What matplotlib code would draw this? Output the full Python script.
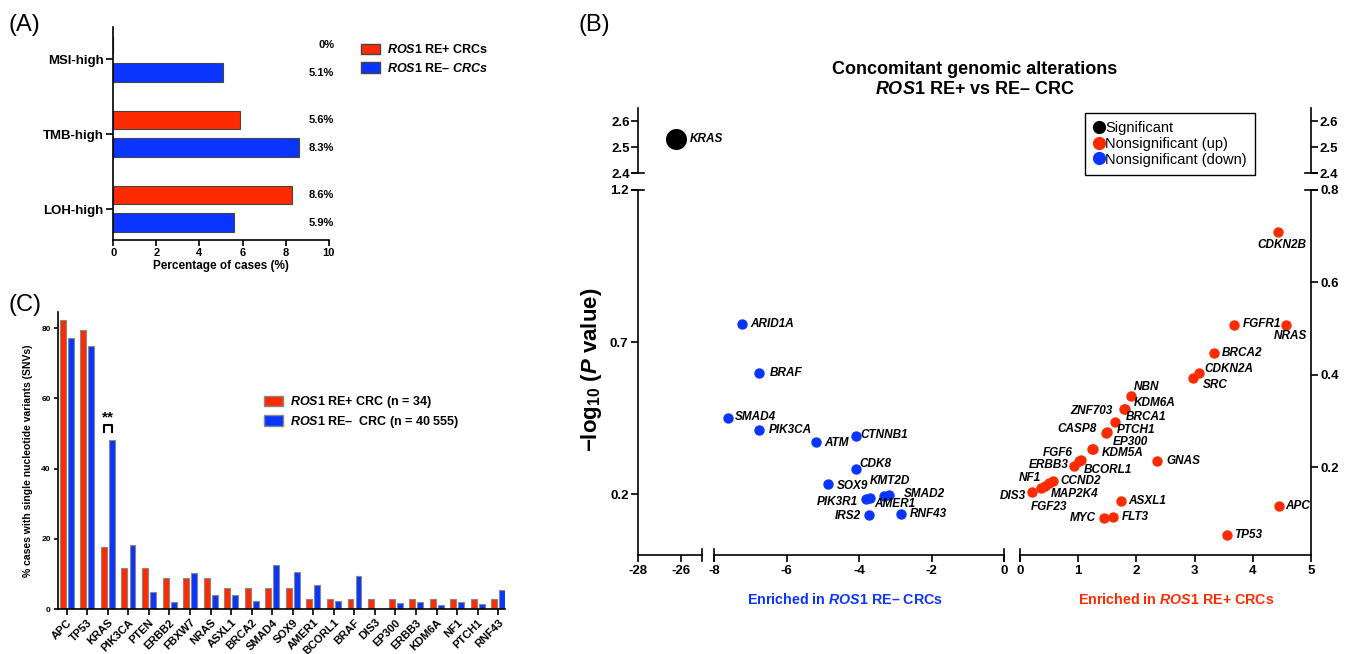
import matplotlib
matplotlib.use('Agg')
import matplotlib.pyplot as plt
import numpy as np
from matplotlib.patches import Patch
from matplotlib.lines import Line2D

plt.rcParams['font.family'] = ['Liberation Sans', 'DejaVu Sans']
plt.rcParams['mathtext.fontset'] = 'custom'
plt.rcParams['mathtext.it'] = 'Liberation Sans:italic:bold'
plt.rcParams['mathtext.rm'] = 'Liberation Sans:bold'
plt.rcParams['mathtext.bf'] = 'Liberation Sans:bold'
plt.rcParams['axes.linewidth'] = 1.2
plt.rcParams['xtick.major.width'] = 1.2
plt.rcParams['ytick.major.width'] = 1.2
plt.rcParams['axes.unicode_minus'] = False

RED = '#FF2B00'
BLUE = '#0A35FF'

# ---- panel A data ----
a_cats = ['MSI-high', 'TMB-high', 'LOH-high']
a_pos = [0.0, 5.9, 8.3]
a_neg = [5.1, 8.6, 5.6]
a_pos_txt = ['0%', '5.6%', '8.6%']
a_neg_txt = ['5.1%', '8.3%', '5.9%']

# ---- panel C data ----
c_genes = ['APC', 'TP53', 'KRAS', 'PIK3CA', 'PTEN', 'ERBB2', 'FBXW7', 'NRAS', 'ASXL1',
           'BRCA2', 'SMAD4', 'SOX9', 'AMER1', 'BCORL1', 'BRAF', 'DIS3', 'EP300', 'ERBB3',
           'KDM6A', 'NF1', 'PTCH1', 'RNF43']
c_pos = [82.4, 79.4, 17.6, 11.8, 11.8, 8.8, 8.8, 8.8, 5.9, 5.9, 5.9, 5.9, 2.9, 2.9, 2.9,
         2.9, 2.9, 2.9, 2.9, 2.9, 2.9, 2.9]
c_neg = [77.1, 74.8, 48.2, 18.3, 4.8, 2.0, 10.3, 4.1, 4.1, 2.4, 12.5, 10.5, 6.7, 2.4, 9.4,
         0.1, 1.6, 1.9, 1.1, 1.9, 1.5, 5.4]

# ---- panel B data ----
sig_gene = ['KRAS']
sig_x = [-26.25]
sig_y = [2.53]

down_genes = ['ARID1A', 'BRAF', 'SMAD4', 'PIK3CA', 'ATM', 'CTNNB1', 'CDK8', 'SOX9',
              'PIK3R1', 'AMER1', 'KMT2D', 'SMAD2', 'IRS2', 'RNF43']
down_x = [-7.22, -6.75, -7.62, -6.77, -5.19, -4.10, -4.10, -4.87, -3.81, -3.70, -3.31,
          -3.17, -3.73, -2.85]
down_y = [0.759, 0.597, 0.449, 0.412, 0.370, 0.390, 0.284, 0.232, 0.185, 0.188, 0.195,
          0.196, 0.131, 0.135]

up_genes = ['CDKN2B', 'NRAS', 'FGFR1', 'BRCA2', 'CDKN2A', 'SRC', 'NBN', 'KDM6A', 'ZNF703',
            'BRCA1', 'PTCH1', 'CASP8', 'EP300', 'KDM5A', 'GNAS', 'BCORL1', 'FGF6', 'ERBB3',
            'CCND2', 'MAP2K4', 'NF1', 'FGF23', 'DIS3', 'ASXL1', 'APC', 'FLT3', 'MYC', 'TP53']
up_x = [4.43, 4.57, 3.67, 3.33, 3.07, 2.98, 1.90, 1.81, 1.78, 1.63, 1.50, 1.48, 1.26, 1.24,
        2.36, 1.04, 1.01, 0.93, 0.56, 0.49, 0.43, 0.36, 0.21, 1.74, 4.45, 1.60, 1.45, 3.56]
up_y = [0.710, 0.507, 0.508, 0.448, 0.405, 0.394, 0.354, 0.327, 0.325, 0.297, 0.276, 0.273,
        0.240, 0.239, 0.214, 0.215, 0.213, 0.202, 0.170, 0.165, 0.160, 0.156, 0.146, 0.127,
        0.115, 0.092, 0.091, 0.053]

# label offsets in pixels (dx, dy, ha)
lab_off = {
    'KRAS': (14, 0, 'left'),
    'ARID1A': (8, 0, 'left'), 'BRAF': (10, 0, 'left'), 'SMAD4': (7, 1, 'left'),
    'PIK3CA': (10, 0, 'left'), 'ATM': (8, -1, 'left'), 'CTNNB1': (5, 1, 'left'),
    'CDK8': (4, 5, 'left'), 'SOX9': (9, -2, 'left'), 'PIK3R1': (-8, -3, 'right'),
    'AMER1': (4, -6, 'left'), 'KMT2D': (-14, 15, 'left'), 'SMAD2': (15, 1, 'left'),
    'IRS2': (-8, -1, 'right'), 'RNF43': (9, 0, 'left'),
    'CDKN2B': (4, -13, 'center'), 'NRAS': (5, -11, 'center'), 'FGFR1': (9, 1, 'left'),
    'BRCA2': (8, 0, 'left'), 'CDKN2A': (6, 4, 'left'), 'SRC': (9, -7, 'left'),
    'NBN': (3, 9, 'left'), 'KDM6A': (8, 6, 'left'), 'ZNF703': (-11, -2, 'right'),
    'BRCA1': (11, 5, 'left'), 'PTCH1': (9, 2, 'left'), 'CASP8': (-9, 4, 'right'),
    'EP300': (19, 7, 'left'), 'KDM5A': (10, -4, 'left'), 'GNAS': (9, 0, 'left'),
    'BCORL1': (3, -10, 'left'), 'FGF6': (-6, 8, 'right'), 'ERBB3': (-5, 1, 'right'),
    'CCND2': (8, 0, 'left'), 'MAP2K4': (2, -11, 'left'), 'NF1': (-4, 8, 'right'),
    'FGF23': (8, -19, 'center'), 'DIS3': (-6, -4, 'right'), 'ASXL1': (7, 0, 'left'),
    'APC': (6, 0, 'left'), 'FLT3': (9, 0, 'left'), 'MYC': (-8, 0, 'right'),
    'TP53': (7, 0, 'left'),
}

W, H = 1350, 654
fig = plt.figure(figsize=(W / 100, H / 100), dpi=100)


def px_axes(l, t, r, b):
    return fig.add_axes([l / W, 1 - b / H, (r - l) / W, (b - t) / H])


# ================= Panel A =================
axA = px_axes(113.3, 26.7, 328.7, 240)
yy = np.arange(len(a_cats))
axA.barh(yy - 0.193, a_pos, height=0.245, color=RED, edgecolor='#444444', lw=0.8)
axA.barh(yy + 0.177, a_neg, height=0.245, color=BLUE, edgecolor='#444444', lw=0.8)
for i in range(len(a_cats)):
    axA.text(10.25, yy[i] - 0.193, a_pos_txt[i], ha='right', va='center', fontsize=8,
             fontweight='bold', clip_on=False)
    axA.text(10.25, yy[i] + 0.177, a_neg_txt[i], ha='right', va='center', fontsize=8,
             fontweight='bold', clip_on=False)
axA.set_ylim(2.41, -0.435)
axA.set_xlim(0, 10)
axA.set_yticks(yy)
axA.set_yticklabels(a_cats, fontsize=9.5, fontweight='bold')
axA.set_xticks(np.arange(0, 11, 2))
axA.tick_params(axis='x', labelsize=8, length=4, pad=2)
axA.tick_params(axis='y', length=5, pad=2)
for t in axA.get_xticklabels():
    t.set_fontweight('bold')
axA.set_xlabel('Percentage of cases (%)', fontsize=8.5, fontweight='bold', labelpad=1)
axA.spines[['top', 'right']].set_visible(False)
fig.legend(handles=[Patch(facecolor=RED, edgecolor='#444444'), Patch(facecolor=BLUE, edgecolor='#444444')],
           labels=[r'$\mathit{ROS1}$ RE+ CRCs', r'$\mathit{ROS1}$ RE– $\mathit{CRCs}$'],
           loc='upper left', bbox_to_anchor=(356 / W, 1 - 38 / H), frameon=False,
           prop={'weight': 'bold', 'size': 9}, handlelength=1.5, handleheight=0.9,
           handletextpad=0.6, labelspacing=0.45, borderaxespad=0)

# ================= Panel C =================
axC = px_axes(57.7, 311.7, 505, 609)
xc = np.arange(len(c_genes))
axC.bar(xc - 0.19, c_pos, width=0.29, color=RED, edgecolor='#888888', lw=0.8)
axC.bar(xc + 0.20, c_neg, width=0.29, color=BLUE, edgecolor='#888888', lw=0.8)
axC.set_xlim(-0.44, 21.33)
axC.set_ylim(0, 84.7)
axC.set_xticks(xc)
axC.set_xticklabels(c_genes, rotation=45, ha='right', rotation_mode='anchor',
                    fontsize=8, fontweight='bold')
axC.set_yticks([0, 20, 40, 60, 80])
axC.tick_params(axis='y', labelsize=6, length=3, pad=2)
axC.tick_params(axis='x', length=4, pad=2)
for t in axC.get_yticklabels():
    t.set_fontweight('bold')
axC.set_ylabel('% cases with single nucleotide variants (SNVs)', fontsize=7.5,
               fontweight='bold', labelpad=6)
axC.spines[['top', 'right']].set_visible(False)
# significance bracket over KRAS
kx = c_genes.index('KRAS')
axC.plot([kx - 0.19, kx - 0.19, kx + 0.20, kx + 0.20], [50.5, 52.4, 52.4, 50.5],
         color='k', lw=1.5)
axC.text(kx, 52.6, '**', ha='center', va='bottom', fontsize=11, fontweight='bold')
fig.legend(handles=[Patch(facecolor=RED, edgecolor='#888888'), Patch(facecolor=BLUE, edgecolor='#888888')],
           labels=[r'$\mathit{ROS1}$ RE+ CRC (n = 34)', r'$\mathit{ROS1}$ RE–  CRC (n = 40 555)'],
           loc='upper left', bbox_to_anchor=(259 / W, 1 - 389 / H), frameon=False,
           prop={'weight': 'bold', 'size': 9}, handlelength=1.5, handleheight=0.9,
           handletextpad=0.6, labelspacing=0.3, borderaxespad=0)

# ================= Panel B =================
XL, XR = 638.3, 1311
top_t, top_b = 108, 173
bot_t, bot_b = 190, 555
left_scale = 21.35  # px per unit on the -28 segment

axT = px_axes(XL, top_t, XR, top_b)
axL = px_axes(XL, bot_t, 702, bot_b)
axM = px_axes(714, bot_t, 1004.3, bot_b)
axR = px_axes(1020, bot_t, XR, bot_b)

axT.set_xlim(-28, -28 + (XR - XL) / left_scale)
axT.set_ylim(2.4, 2.65)
axT.set_yticks([2.4, 2.5, 2.6])
axT.set_yticklabels(['2.4', '2.5', '2.6'])
axT.set_xticks([])
axT.spines[['top', 'bottom']].set_visible(False)
axT.tick_params(axis='y', left=True, right=True, labelleft=True, labelright=True,
                labelsize=9.5, length=5, pad=1)
for t in axT.get_yticklabels(which='both'):
    t.set_fontweight('bold')
axT.scatter(sig_x, sig_y, s=200, color='black', zorder=3, clip_on=False)

for ax in (axL, axM, axR):
    ax.spines['top'].set_visible(False)
    ax.tick_params(labelsize=9.5, length=5, pad=2)
axL.set_xlim(-28, -25)
axL.set_ylim(0, 1.2)
axL.set_xticks([-28, -26])
axL.set_yticks([0.2, 0.7, 1.2])
axL.spines['right'].set_visible(False)

axM.set_xlim(-8, 0)
axM.set_ylim(0, 1.2)
axM.set_xticks([-8, -6, -4, -2, 0])
axM.set_yticks([])
axM.spines[['left', 'right']].set_visible(False)

axR.set_xlim(0, 5)
axR.set_ylim(0.01, 0.8)
axR.set_xticks([0, 1, 2, 3, 4, 5])
axR.spines['left'].set_visible(False)
axR.yaxis.tick_right()
axR.set_yticks([0.2, 0.4, 0.6, 0.8])
for ax in (axL, axM, axR):
    for t in ax.get_xticklabels() + ax.get_yticklabels():
        t.set_fontweight('bold')

axM.scatter(down_x, down_y, s=42, color=BLUE, zorder=3, clip_on=False)
axR.scatter(up_x, up_y, s=42, color=RED, zorder=3, clip_on=False)

lab_font = dict(fontsize=8.5, fontweight='bold', fontstyle='italic', va='center')


def label_points(ax, names, xs, ys):
    for g, x, y in zip(names, xs, ys):
        dx, dy, ha = lab_off[g]
        ax.annotate(g, (x, y), xytext=(dx * 0.72, dy * 0.72), textcoords='offset points',
                    ha=ha, annotation_clip=False, **lab_font)


label_points(axT, sig_gene, sig_x, sig_y)
label_points(axM, down_genes, down_x, down_y)
label_points(axR, up_genes, up_x, up_y)

# axis break marks
def brk(ax, xs, ys):
    ax.plot(xs, ys, transform=ax.transAxes, color='k', lw=1.2, clip_on=False)

dT = 6 / (XR - XL)
brk(axT, [-dT, dT], [0, 0])
brk(axT, [1 - dT, 1 + dT], [0, 0])
brk(axL, [-6 / 63.7, 6 / 63.7], [1, 1])
brk(axR, [1 - 6 / 291, 1 + 6 / 291], [1, 1])
dv = 6 / (bot_b - bot_t)
brk(axL, [1, 1], [-dv, dv])
brk(axM, [0, 0], [-dv, dv])
brk(axM, [1, 1], [-dv, dv])
brk(axR, [0, 0], [-dv, dv])

legB = fig.legend(handles=[Line2D([], [], marker='o', ls='', color=c, markersize=8.5)
                           for c in ('black', RED, BLUE)],
                  labels=['Significant', 'Nonsignificant (up)', 'Nonsignificant (down)'],
                  loc='upper left', bbox_to_anchor=(1085 / W, 1 - 113 / H), fancybox=False,
                  edgecolor='black', framealpha=1, fontsize=10.5, handletextpad=0.05,
                  borderpad=0.55, labelspacing=0.12, handlelength=0.8, borderaxespad=0)
legB.get_frame().set_linewidth(1.0)

fig.text(975 / W, 1 - 70 / H, 'Concomitant genomic alterations', ha='center', va='center',
         fontsize=13, fontweight='bold')
fig.text(975 / W, 1 - 89 / H, r'$\mathit{ROS1}$ RE+ vs RE– CRC', ha='center', va='center',
         fontsize=13, fontweight='bold')
fig.text(592 / W, 1 - 370 / H, '\u2212log$_{10}$ ($\\mathit{P}$ value)', rotation=90,
         ha='center', va='center', fontsize=16, fontweight='bold')
fig.text(845 / W, 1 - 599 / H, r'Enriched in $\mathit{ROS1}$ RE– CRCs', ha='center',
         va='center', fontsize=10.3, fontweight='bold', color=BLUE)
fig.text(1176 / W, 1 - 599 / H, r'Enriched in $\mathit{ROS1}$ RE+ CRCs', ha='center',
         va='center', fontsize=10.3, fontweight='bold', color=RED)

# panel letters
fig.text(8 / W, 1 - 25 / H, '(A)', fontsize=17, va='center')
fig.text(578 / W, 1 - 25 / H, '(B)', fontsize=17, va='center')
fig.text(8 / W, 1 - 305 / H, '(C)', fontsize=17, va='center')

fig.savefig('out.png', dpi=100)
